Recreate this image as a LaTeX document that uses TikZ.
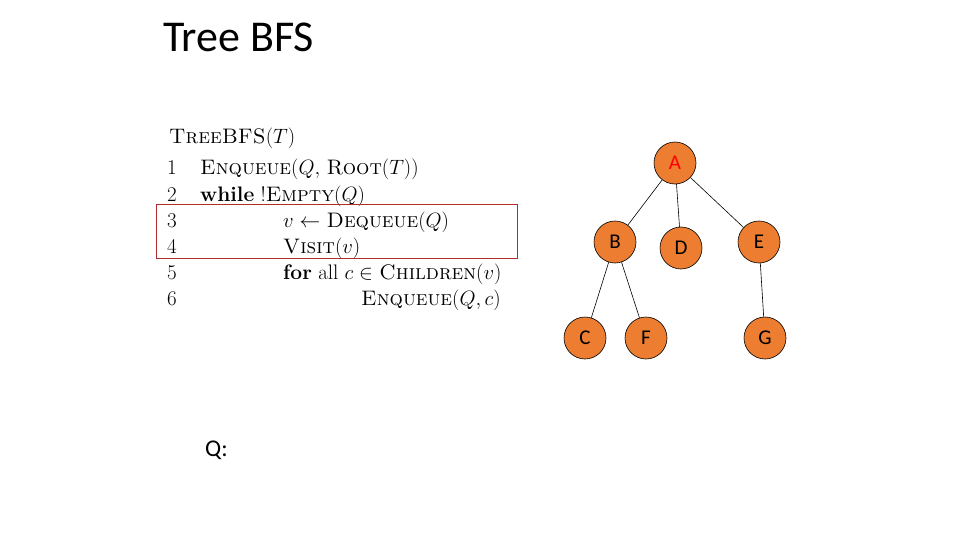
\documentclass[tikz,border=0pt]{standalone}
\usepackage{amsmath,amssymb}
\usepackage{fontspec}
\newfontfamily\slidefont{Carlito}
\usetikzlibrary{positioning}
\definecolor{nodeorange}{RGB}{237,125,49}
\definecolor{boxred}{RGB}{175,45,45}
\tikzset{
  tree/vertex/.style={draw, circle, fill=nodeorange, line width=0.6pt, minimum size=42pt, inner sep=0pt, font=\slidefont\fontsize{21}{21}\selectfont},
  tree/edge/.style={line width=0.6pt},
  algo/line/.style={anchor=base west, inner sep=0pt, font=\fontsize{21}{24}\selectfont},
  algo/box/.style={draw=boxred, line width=0.8pt},
  slide/text/.style={anchor=base west, inner sep=0pt, font=\slidefont\fontsize{#1}{#1}\selectfont}
}

\begin{document}
\begin{tikzpicture}[x=1pt, y=-1pt]
\useasboundingbox (0,0) rectangle (960,540);

% --- slide title ---
\node[slide/text=44] (title) at (163,52) {Tree BFS};

% --- pseudocode ---
\node[algo/line] (head) at (169,144) {\textsc{TreeBFS}$(T)$};
\node[algo/line] (n1) at (167,175) {1};
\node[algo/line] (n2) at (167,201) {2};
\node[algo/line] (n3) at (167,227) {3};
\node[algo/line] (n4) at (167,253) {4};
\node[algo/line] (n5) at (167,279) {5};
\node[algo/line] (n6) at (167,305) {6};
\node[algo/line] (l1) at (200,175) {\textsc{Enqueue}$(Q,$ \textsc{Root}$(T))$};
\node[algo/line] (l2) at (200,201) {\textbf{while} !\textsc{Empty}$(Q)$};
\node[algo/line] (l3) at (283,227) {$v \leftarrow$ \textsc{Dequeue}$(Q)$};
\node[algo/line] (l4) at (283,253) {\textsc{Visit}$(v)$};
\node[algo/line] (l5) at (283,279) {\textbf{for} all $c \in$ \textsc{Children}$(v)$};
\node[algo/line] (l6) at (361,305) {\textsc{Enqueue}$(Q, c)$};

% highlighted lines 3-4
\coordinate (boxtl) at (156,204);
\coordinate (boxbr) at (517,258);
\draw[algo/box] (boxtl) rectangle (boxbr);

% --- tree ---
\node[tree/vertex, text=red] (A) at (675,163) {A};
\node[tree/vertex] (B) at (615,242) {B};
\node[tree/vertex] (D) at (681,248) {D};
\node[tree/vertex] (E) at (759,242) {E};
\node[tree/vertex] (C) at (585,338) {C};
\node[tree/vertex] (F) at (646,338) {F};
\node[tree/vertex] (G) at (765,338) {G};

\draw[tree/edge] (A) -- (B);
\draw[tree/edge] (A) -- (D);
\draw[tree/edge] (A) -- (E);
\draw[tree/edge] (B) -- (C);
\draw[tree/edge] (B) -- (F);
\draw[tree/edge] (E) -- (G);

% --- queue ---
\node[slide/text=24] (queue) at (205,456) {Q:};

\end{tikzpicture}
\end{document}
